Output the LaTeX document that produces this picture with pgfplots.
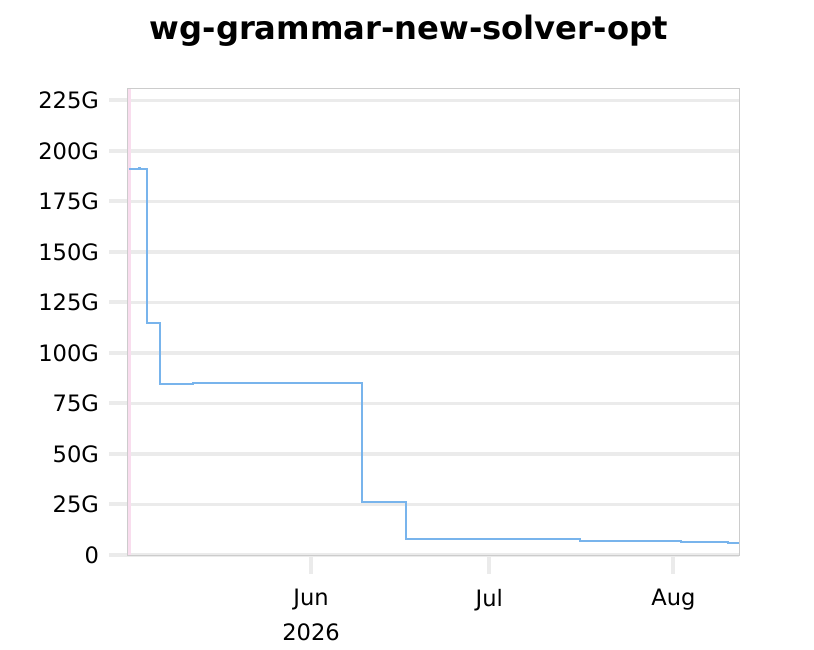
\documentclass[border=0pt]{standalone}
\usepackage{pgfplots}
\pgfplotsset{compat=1.18}
\usepackage{fontspec}
\setmainfont{DejaVu Sans}
\definecolor{stepblue}{HTML}{78B4EC}
\definecolor{gridgray}{HTML}{EBEBEB}
\definecolor{framegray}{HTML}{CCCCCC}
\definecolor{markpink}{HTML}{F9DDEE}

% x in days from 1 June 2026; y in G
\begin{document}
\begin{tikzpicture}
\begin{axis}[
  scale only axis,
  width=305.5pt, height=233pt,
  xmin=-30.81, xmax=72.05,
  ymin=0, ymax=230.6,
  axis line style={framegray, line width=0.5pt},
  xtick={0,30,61},
  xticklabels={Jun\\2026, Jul, Aug},
  ytick={0,25,...,225},
  yticklabels={0,25G,50G,75G,100G,125G,150G,175G,200G,225G},
  tick align=outside,
  major tick length=9.5pt,
  every tick/.style={gridgray, line width=2pt},
  xtick pos=bottom, ytick pos=left,
  ymajorgrids,
  major grid style={gridgray, line width=1.8pt},
  ticklabel style={font=\fontsize{11.3}{17.5}\selectfont, text=black},
  xticklabel style={align=center, yshift=-4pt},
  yticklabel style={xshift=-1.5pt},
  /pgf/number format/assume math mode=true,
  clip=false,
]
\addplot[markpink, line width=1.5pt] coordinates {(-30.56,0) (-30.56,230.6)};
\addplot[stepblue, line width=1pt, const plot, mark=none] coordinates {
  (-30.7, 190.8) (-29.0, 191.3) (-28.8, 190.8)
  (-27.56, 114.7)
  (-25.37, 84.7)
  (-19.87, 85.0)
  (8.5, 26.0)
  (16.0, 7.7)
  (45.3, 6.7)
  (62.3, 6.2)
  (70.2, 5.7)
  (72.05, 5.7)
};
\end{axis}
\node[anchor=base, font=\fontsize{16.1}{19}\selectfont\bfseries] at (140.35pt,257.5pt) {wg-grammar-new-solver-opt};
\path (-64pt,-47pt) rectangle (343pt,277.5pt);
\end{tikzpicture}
\end{document}
